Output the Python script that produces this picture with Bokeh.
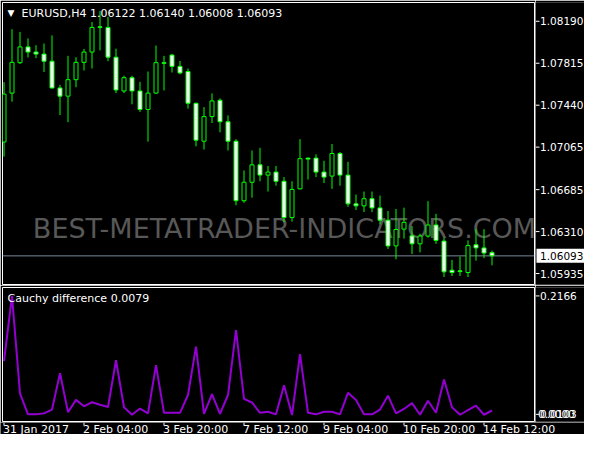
from bokeh.plotting import figure
from bokeh.models import Range1d, Label, Span, ColumnDataSource
from bokeh.core.properties import value
from bokeh.layouts import column, row
from bokeh.embed import file_html
from bokeh.resources import INLINE

# ---------------- data ----------------
symbol = "EURUSD,H4"
indicator_name = "Cauchy difference"
indicator_value = "0.0079"

opens = [1.07111, 1.07548, 1.07820, 1.07961, 1.07915, 1.07897, 1.07833, 1.07594, 1.07521, 1.07668,
         1.07823, 1.07915, 1.08141, 1.08135, 1.07869, 1.07567, 1.07686, 1.07567, 1.07402, 1.07548,
         1.07820, 1.07888, 1.07787, 1.07741, 1.07457, 1.07118, 1.07338, 1.07484, 1.07292, 1.07118,
         1.06586, 1.06751, 1.06907, 1.06815, 1.06842, 1.06760, 1.06435, 1.06692, 1.06967, 1.06967,
         1.06842, 1.06806, 1.07008, 1.06815, 1.06558, 1.06540, 1.06604, 1.06522, 1.06412, 1.06182,
         1.06332, 1.06272, 1.06201, 1.06270, 1.06369, 1.06225, 1.05965, 1.05959, 1.05944, 1.06192,
         1.06164, 1.06122]
highs = [1.07646, 1.08119, 1.08095, 1.08037, 1.07976, 1.07991, 1.08064, 1.07622, 1.07881, 1.07869,
         1.07943, 1.08184, 1.08282, 1.08229, 1.07945, 1.07704, 1.07704, 1.07649, 1.07741, 1.07973,
         1.07881, 1.07899, 1.07835, 1.07768, 1.07462, 1.07423, 1.07545, 1.07501, 1.07349, 1.07136,
         1.06857, 1.07035, 1.07059, 1.06897, 1.06897, 1.06797, 1.06760, 1.07136, 1.06971, 1.07001,
         1.06943, 1.07093, 1.07022, 1.06934, 1.06641, 1.06668, 1.06668, 1.06632, 1.06494, 1.06512,
         1.06524, 1.06359, 1.06292, 1.06582, 1.06469, 1.06256, 1.06057, 1.06087, 1.06231, 1.06332,
         1.06332, 1.06140]
lows = [1.06980, 1.07471, 1.07808, 1.07866, 1.07860, 1.07737, 1.07588, 1.07352, 1.07288, 1.07600,
        1.07750, 1.07768, 1.07930, 1.07833, 1.07548, 1.07548, 1.07448, 1.07380, 1.07114, 1.07542,
        1.07572, 1.07732, 1.07716, 1.07409, 1.07072, 1.07044, 1.07281, 1.07198, 1.07035, 1.06545,
        1.06567, 1.06613, 1.06760, 1.06668, 1.06720, 1.06393, 1.06399, 1.06688, 1.06775, 1.06797,
        1.06744, 1.06692, 1.06720, 1.06531, 1.06503, 1.06485, 1.06485, 1.06375, 1.06155, 1.06063,
        1.06247, 1.06109, 1.06124, 1.06256, 1.06201, 1.05904, 1.05913, 1.05913, 1.05904, 1.06050,
        1.06072, 1.06008]
closes = [1.07539, 1.07823, 1.07961, 1.07915, 1.07897, 1.07833, 1.07594, 1.07521, 1.07668, 1.07823,
          1.07915, 1.08135, 1.08135, 1.07869, 1.07576, 1.07686, 1.07567, 1.07402, 1.07548, 1.07820,
          1.07814, 1.07787, 1.07728, 1.07457, 1.07127, 1.07338, 1.07478, 1.07292, 1.07118, 1.06586,
          1.06751, 1.06907, 1.06815, 1.06842, 1.06760, 1.06435, 1.06687, 1.06962, 1.06958, 1.06842,
          1.06797, 1.07008, 1.06815, 1.06558, 1.06540, 1.06604, 1.06522, 1.06412, 1.06182, 1.06329,
          1.06393, 1.06201, 1.06270, 1.06369, 1.06231, 1.05950, 1.05944, 1.05952, 1.06185, 1.06164,
          1.06118, 1.06093]

cauchy = [0.1029, 0.2166, 0.0467, 0.0103, 0.0103, 0.0120, 0.0187, 0.0820, 0.0142, 0.0355,
          0.0243, 0.0315, 0.0271, 0.0231, 0.1046, 0.0226, 0.0096, 0.0204, 0.0120, 0.0961,
          0.0130, 0.0130, 0.0130, 0.0440, 0.1281, 0.0113, 0.0456, 0.0113, 0.0440, 0.1572,
          0.0372, 0.0310, 0.0130, 0.0147, 0.0103, 0.0608, 0.0091, 0.1152, 0.0130, 0.0103,
          0.0148, 0.0148, 0.0103, 0.0478, 0.0355, 0.0103, 0.0103, 0.0187, 0.0428, 0.0120,
          0.0197, 0.0298, 0.0096, 0.0339, 0.0130, 0.0709, 0.0226, 0.0096, 0.0175, 0.0254,
          0.0096, 0.0170]

price_ticks = [1.05935, 1.06310, 1.06685, 1.07065, 1.07440, 1.07815, 1.08190]
ind_ticks = [0.2166, 0.0103]
ind_extra_label = "0.0000"
time_bars = [0, 10, 20, 30, 40, 50, 60]
time_labels = ["31 Jan 2017", "2 Feb 04:00", "3 Feb 20:00", "7 Feb 12:00",
               "9 Feb 04:00", "10 Feb 20:00", "14 Feb 12:00"]

# ---------------- styling / layout ----------------
FONT = "DejaVu Sans"
FS = "11px"
FS_AX = "10.5px"
GREEN = "#00ff00"
WHITE = "white"
W_TOTAL = 584
W_MAIN = 535          # frame 2 .. 534
W_SIDE = W_TOTAL - W_MAIN
H1 = 285              # main frame 2 .. 284
H2 = 137              # indicator frame 287 .. 421
H3 = 434 - H1 - H2    # time labels strip
FRAME_H1 = H1 - 2 - 1
FRAME_H2 = H2 - 2 - 1


def base_fig(width, height, xr, yr, top, bottom, left, right, outline):
    f = figure(width=width, height=height, output_backend="svg", toolbar_location=None,
               x_range=xr, y_range=yr, x_axis_type=None, y_axis_type=None,
               min_border_left=left, min_border_right=right,
               min_border_top=top, min_border_bottom=bottom,
               background_fill_color="black", border_fill_color="black",
               outline_line_color=(WHITE if outline else None), outline_line_width=1)
    return f


bars = list(range(len(opens)))
src = ColumnDataSource(dict(
    x=bars, o=opens, h=highs, l=lows, c=closes,
    top=[max(o, c) for o, c in zip(opens, closes)],
    bottom=[min(o, c) for o, c in zip(opens, closes)],
    fill=["black" if c > o else "white" for o, c in zip(opens, closes)],
))

xr = Range1d(-0.1875, 66.3125)
yr_price = Range1d(1.05837, 1.08358)
yr_ind = Range1d(-0.00215, 0.23128)

# ---- main price panel ----
p1 = base_fig(W_MAIN, H1, xr, yr_price, 2, 1, 2, 1, True)
p1.add_layout(Label(x=282, y=56, x_units="screen", y_units="screen",
                    text="BEST-METATRADER-INDICATORS.COM", text_align="center",
                    text_baseline="middle", text_font=FONT, text_font_size="27px",
                    text_color="#585858", level="underlay"))
p1.add_layout(Span(location=closes[-1], dimension="width", line_color="#778899",
                   line_width=1, level="underlay"))
p1.segment(x0="x", y0="l", x1="x", y1="h", line_color=GREEN, line_width=1, source=src)
p1.vbar(x="x", width=0.5, top="top", bottom="bottom", fill_color="fill",
        line_color=GREEN, line_width=1, source=src)

title = "%s  %.5f %.5f %.5f %.5f" % (symbol, opens[-1], highs[-1], lows[-1], closes[-1])
p1.add_layout(Label(x=19, y=FRAME_H1 - 4, x_units="screen", y_units="screen", text=title,
                    text_align="left", text_baseline="top", text_font=FONT,
                    text_font_size=FS, text_color=WHITE))
p1.add_layout(Label(x=5, y=FRAME_H1 - 10, x_units="screen", y_units="screen", text="\u25bc",
                    text_align="left", text_baseline="middle", text_font=FONT,
                    text_font_size="9px", text_color=WHITE))

# ---- right price scale strip ----
r1 = base_fig(W_SIDE, H1, Range1d(0, W_SIDE), yr_price, 2, 1, 0, 0, False)
r1.segment(x0=[0] * len(price_ticks), y0=price_ticks, x1=[4] * len(price_ticks),
           y1=price_ticks, line_color=WHITE, line_width=1)
r1.text(x=[4.5] * len(price_ticks), y=price_ticks, text=["%.5f" % t for t in price_ticks],
        text_color=WHITE, text_font=value(FONT), text_font_size=value(FS_AX),
        text_align="left", text_baseline="middle")
r1.rect(x=[W_SIDE / 2 + 1], y=[closes[-1]], width=W_SIDE, height=14,
        width_units="screen", height_units="screen", fill_color=WHITE, line_color=None)
r1.text(x=[4.5], y=[closes[-1]], text=["%.5f" % closes[-1]], text_color="black",
        text_font=value(FONT), text_font_size=value(FS_AX), text_align="left",
        text_baseline="middle")

# ---- indicator panel ----
p2 = base_fig(W_MAIN, H2, xr, yr_ind, 2, 1, 2, 1, True)
p2.line(x=bars, y=cauchy, line_color="#9400d3", line_width=2)
p2.add_layout(Label(x=5, y=FRAME_H2 - 4, x_units="screen", y_units="screen",
                    text="%s %s" % (indicator_name, indicator_value), text_align="left",
                    text_baseline="top", text_font=FONT, text_font_size=FS,
                    text_color=WHITE))

# ---- right indicator scale strip ----
r2 = base_fig(W_SIDE, H2, Range1d(0, W_SIDE), yr_ind, 2, 1, 0, 0, False)
r2.segment(x0=[0] * len(ind_ticks), y0=ind_ticks, x1=[4] * len(ind_ticks), y1=ind_ticks,
           line_color=WHITE, line_width=1)
r2.text(x=[2.5], y=[ind_ticks[1]], text=[ind_extra_label], text_color=WHITE,
        text_font=value(FONT), text_font_size=value(FS_AX), text_align="left",
        text_baseline="middle")
r2.text(x=[4.5] * len(ind_ticks), y=ind_ticks, text=["%.4f" % t for t in ind_ticks],
        text_color=WHITE, text_font=value(FONT), text_font_size=value(FS_AX),
        text_align="left", text_baseline="middle")

# ---- time scale strip ----
p3 = base_fig(W_TOTAL, H3, Range1d(-0.4375, 72.5625), Range1d(H3, 0), 0, 0, 0, 0, False)
p3.segment(x0=time_bars, y0=[0] * len(time_bars), x1=time_bars, y1=[3] * len(time_bars),
           line_color=WHITE, line_width=1)
p3.text(x=time_bars, y=[0] * len(time_bars), text=time_labels, x_offset=-1,
        text_color=WHITE, text_font=value(FONT), text_font_size=value(FS),
        text_align="left", text_baseline="top")

layout = column(row(p1, r1, spacing=0), row(p2, r2, spacing=0), p3, spacing=0)
open("out.html", "w").write(file_html(layout, INLINE))
